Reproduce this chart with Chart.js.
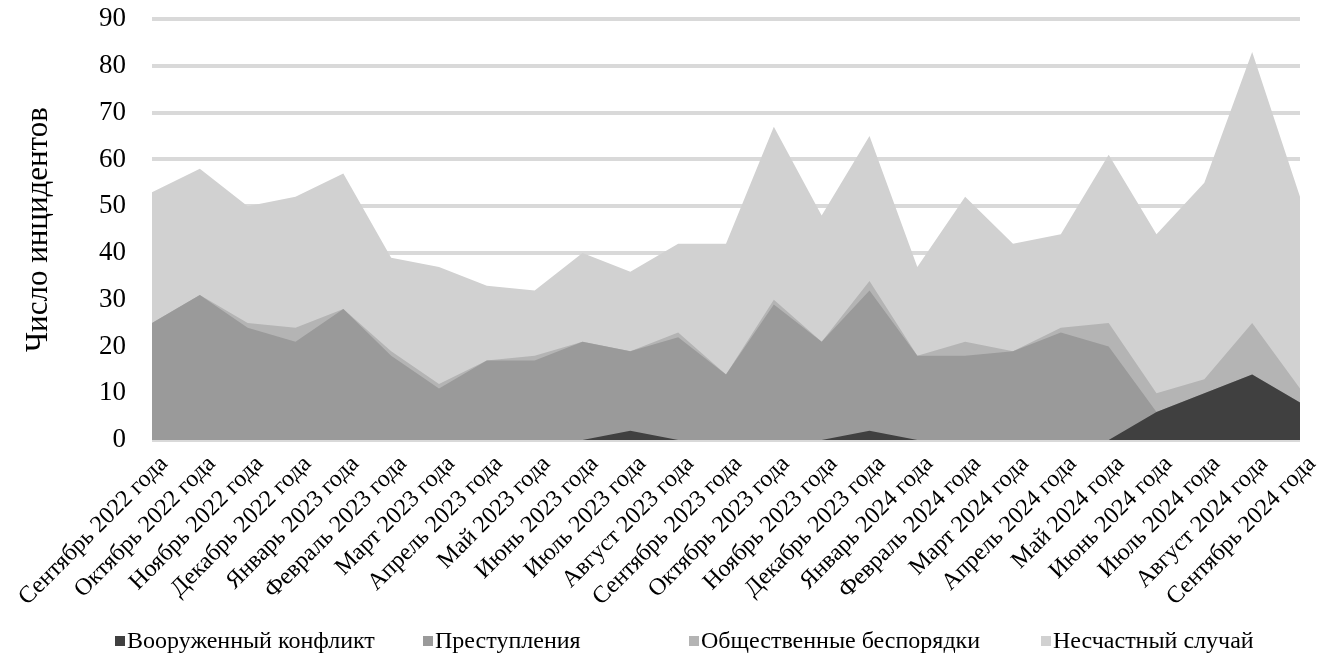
<!DOCTYPE html>
<html>
<head>
<meta charset="utf-8">
<script src="https://cdn.jsdelivr.net/npm/chart.js@4"></script>
<style>
  html, body { margin: 0; padding: 0; background: #fff; }
  #wrap { position: relative; width: 1328px; height: 666px; }
  #legend { position: absolute; left: 0; top: 626px; width: 1328px; height: 30px;
    font-family: 'Liberation Serif', 'Times New Roman', serif; font-size: 24px; color: #000; }
  #legend span.item { position: absolute; top: 0; white-space: nowrap; line-height: 28px; }
  #legend i { display: inline-block; width: 10px; height: 10px; margin-right: 2px; vertical-align: 2px; }
</style>
</head>
<body>
<div id="wrap"><canvas id="incidents-chart" width="1328" height="666"></canvas><div id="legend"></div></div>
<script>
(function () {
	'use strict';

	var months = [
		'Сентябрь 2022 года', 'Октябрь 2022 года', 'Ноябрь 2022 года', 'Декабрь 2022 года',
		'Январь 2023 года', 'Февраль 2023 года', 'Март 2023 года', 'Апрель 2023 года',
		'Май 2023 года', 'Июнь 2023 года', 'Июль 2023 года', 'Август 2023 года',
		'Сентябрь 2023 года', 'Октябрь 2023 года', 'Ноябрь 2023 года', 'Декабрь 2023 года',
		'Январь 2024 года', 'Февраль 2024 года', 'Март 2024 года', 'Апрель 2024 года',
		'Май 2024 года', 'Июнь 2024 года', 'Июль 2024 года', 'Август 2024 года',
		'Сентябрь 2024 года'
	];
	var conflict  = [0, 0, 0, 0, 0, 0, 0, 0, 0, 0, 2, 0, 0, 0, 0, 2, 0, 0, 0, 0, 0, 6, 10, 14, 8];
	var crime     = [25, 31, 24, 21, 28, 18, 11, 17, 17, 21, 17, 22, 14, 29, 21, 30, 18, 18, 19, 23, 20, 0, 0, 0, 0];
	var unrest    = [0, 0, 1, 3, 0, 1, 1, 0, 1, 0, 0, 1, 0, 1, 0, 2, 0, 3, 0, 1, 5, 4, 3, 11, 3];
	var accident  = [28, 27, 25, 28, 29, 20, 25, 16, 14, 19, 17, 19, 28, 37, 27, 31, 19, 31, 23, 20, 36, 34, 42, 58, 41];
	var yTicks = [0, 10, 20, 30, 40, 50, 60, 70, 80, 90];

	var FONT = "'Liberation Serif', 'Times New Roman', serif";
	// legend item left edges (Excel spaces them unevenly)
	var LEGEND_X = [115, 423, 689, 1041];

	function area(label, data, color) {
		return { label: label, data: data, backgroundColor: color, borderColor: color,
			borderWidth: 0, pointRadius: 0, tension: 0, fill: true };
	}

	var chart = new Chart(document.getElementById('incidents-chart').getContext('2d'), {
		type: 'line',
		data: {
			labels: months,
			datasets: [
				area('Вооруженный конфликт', conflict, '#404040'),
				area('Преступления', crime, '#9a9a9a'),
				area('Общественные беспорядки', unrest, '#b4b4b4'),
				area('Несчастный случай', accident, '#d1d1d1')
			]
		},
		options: {
			responsive: false, animation: false,
			layout: { padding: { left: 20, right: 28, top: 19, bottom: 58 } },
			plugins: { tooltip: { enabled: false }, legend: { display: false } },
			scales: {
				x: { offset: false,
					grid: { display: false }, border: { display: false },
					ticks: { autoSkip: false, maxRotation: 45, minRotation: 45, labelOffset: 12, padding: 2,
						color: '#000', font: { family: FONT, size: 24 } },
					afterFit: function (s) { s.height = 168; }
				},
				y: { stacked: true, min: 0, max: 90,
					afterBuildTicks: function (s) { s.ticks = yTicks.map(function (v) { return { value: v }; }); },
					// invisible tick marks push the labels left without adding top padding
					grid: { color: '#d9d9d9', lineWidth: 4, drawTicks: true, tickLength: 23, tickColor: 'rgba(0,0,0,0)' },
					border: { display: false },
					ticks: { padding: 3, color: '#000', font: { family: FONT, size: 27 } },
					title: { display: true, text: 'Число инцидентов', color: '#000', padding: 0,
						font: { family: FONT, size: 31 } },
					afterFit: function (s) { s.width = 132; }
				}
			}
		}
	});

	// legend as real text
	var leg = document.getElementById('legend');
	chart.data.datasets.forEach(function (ds, i) {
		var item = document.createElement('span');
		item.className = 'item';
		item.style.left = LEGEND_X[i] + 'px';
		var box = document.createElement('i');
		box.style.background = ds.backgroundColor;
		item.appendChild(box);
		item.appendChild(document.createTextNode(ds.label));
		leg.appendChild(item);
	});
}());
</script>
</body>
</html>
